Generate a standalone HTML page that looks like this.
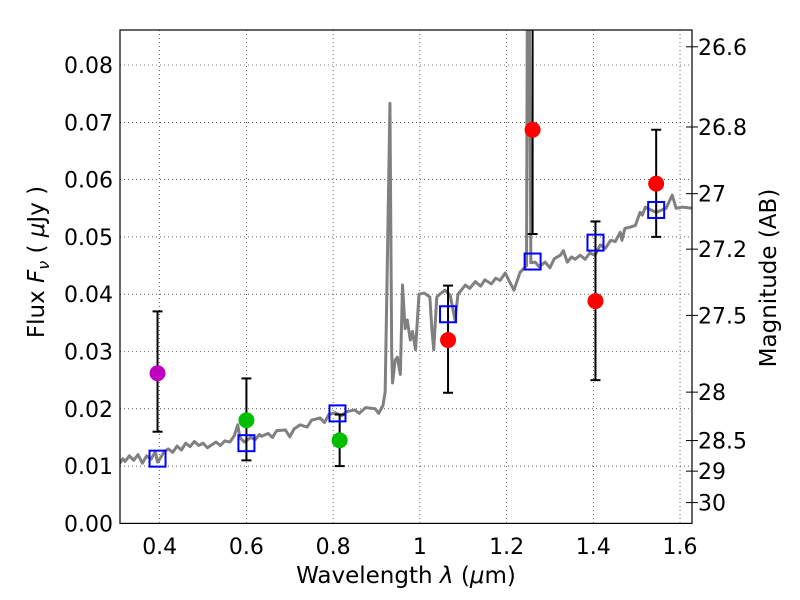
<!DOCTYPE html>
<html><head><meta charset="utf-8"><style>
body{margin:0;background:#fff}
svg{display:block;font-family:"DejaVu Sans","Liberation Sans",sans-serif}
</style></head><body>
<svg id="c" width="800" height="600"></svg>
<script>
const specWl=[0.308,0.315,0.32,0.33,0.34,0.35,0.36,0.37,0.38,0.39,0.395,0.40,0.41,0.42,0.43,0.44,0.45,0.46,0.47,0.48,0.49,0.50,0.51,0.516,0.53,0.54,0.55,0.562,0.572,0.58,0.585,0.595,0.61,0.62,0.63,0.635,0.65,0.66,0.67,0.69,0.70,0.71,0.724,0.74,0.75,0.77,0.78,0.79,0.805,0.82,0.83,0.85,0.86,0.875,0.897,0.905,0.915,0.92,0.926,0.931,0.935,0.937,0.943,0.948,0.955,0.96,0.966,0.971,0.978,0.983,0.99,0.998,1.01,1.023,1.028,1.032,1.039,1.046,1.058,1.07,1.081,1.088,1.105,1.115,1.128,1.14,1.15,1.165,1.175,1.185,1.197,1.208,1.217,1.231,1.246,1.248,1.252,1.256,1.266,1.275,1.289,1.3,1.31,1.324,1.331,1.34,1.35,1.358,1.37,1.381,1.392,1.404,1.416,1.428,1.44,1.451,1.462,1.466,1.473,1.485,1.497,1.508,1.513,1.52,1.53,1.545,1.568,1.582,1.591,1.606,1.628];
const specF=[0.0105,0.0113,0.0108,0.0118,0.0110,0.0120,0.0105,0.0118,0.0112,0.0125,0.0107,0.0112,0.0125,0.0130,0.0124,0.0135,0.0128,0.0140,0.0134,0.0143,0.0136,0.0140,0.0132,0.0135,0.0142,0.0136,0.0144,0.0142,0.0153,0.0172,0.0150,0.0142,0.0150,0.0146,0.0155,0.0152,0.0157,0.0150,0.0162,0.0163,0.0151,0.0165,0.0172,0.0168,0.0180,0.0184,0.0176,0.0190,0.0193,0.0188,0.0195,0.0198,0.0192,0.0202,0.0200,0.0192,0.0206,0.0230,0.050,0.0733,0.030,0.0245,0.0285,0.0290,0.0260,0.0416,0.0340,0.0355,0.0320,0.0335,0.0303,0.0400,0.0402,0.0395,0.0336,0.0303,0.0395,0.0400,0.0407,0.0398,0.0355,0.0400,0.0416,0.0410,0.0422,0.0414,0.0425,0.0418,0.0428,0.0424,0.0437,0.0420,0.0407,0.0438,0.0450,0.095,0.095,0.0455,0.0456,0.0448,0.0456,0.0446,0.0462,0.0468,0.0476,0.0456,0.0465,0.0461,0.0468,0.0461,0.0472,0.0468,0.0486,0.0480,0.0494,0.0492,0.0508,0.0494,0.0515,0.0517,0.0520,0.0543,0.0538,0.0552,0.0548,0.0543,0.0550,0.0573,0.0550,0.0552,0.0550];
const ptWl=[0.395,0.60,0.815,1.065,1.26,1.405,1.545];
const ptF=[0.0262,0.0180,0.0145,0.0320,0.0687,0.0388,0.0593];
const errLo=[0.0160,0.0110,0.0100,0.0228,0.0505,0.0250,0.0500];
const errHi=[0.0370,0.0253,0.0190,0.0415,0.0950,0.0527,0.0687];
const ptColor=['#bf00bf','#00bf00','#00bf00','#ff0000','#ff0000','#ff0000','#ff0000'];
const modelWl=[0.395,0.60,0.81,1.065,1.26,1.405,1.545];
const modelF=[0.0113,0.0140,0.0192,0.0365,0.0457,0.0490,0.0547];
const xTicks=[0.4,0.6,0.8,1.0,1.2,1.4,1.6];
const xTickLabels=['0.4','0.6','0.8','1','1.2','1.4','1.6'];
const yTicks=[0,0.01,0.02,0.03,0.04,0.05,0.06,0.07,0.08];
const yTickLabels=['0.00','0.01','0.02','0.03','0.04','0.05','0.06','0.07','0.08'];
const magTicks=[26.6,26.8,27,27.2,27.5,28,28.5,29,30];
const magTickLabels=['26.6','26.8','27','27.2','27.5','28','28.5','29','30'];

const L=120,R=692,T=30,B=523.4;
const X=w=>159.7+(w-0.4)*433.6;
const Y=f=>B-f*5730;
const svg=document.getElementById('c');
const NS='http://www.w3.org/2000/svg';
function mk(tag,attrs,parent){const e=document.createElementNS(NS,tag);for(const k in attrs)e.setAttribute(k,attrs[k]);(parent||svg).appendChild(e);return e;}
const defs=mk('defs',{});const cp=mk('clipPath',{id:'pc'},defs);mk('rect',{x:L,y:T,width:R-L,height:B-T},cp);

xTicks.forEach((t,i)=>{
  const g=mk('line',{x1:X(t),x2:X(t),y1:T,y2:B,stroke:'#000','stroke-width':0.6,'stroke-dasharray':'1,3'});
  
  
  const tx=mk('text',{x:X(t),y:554,'text-anchor':'middle','font-size':22});
  tx.textContent=xTickLabels[i];
  
  
});
yTicks.forEach((t,i)=>{
  const g=mk('line',{x1:L,x2:R,y1:Y(t),y2:Y(t),stroke:'#000','stroke-width':0.6,'stroke-dasharray':'1,3'});
  
  
  const tx=mk('text',{x:L-7,y:Y(t)+8,'text-anchor':'end','font-size':22});
  tx.textContent=yTickLabels[i];
  
  
});
magTicks.forEach((m,i)=>{
  const y=Y(Math.pow(10,(23.9-m)/2.5));
  const tk=mk('line',{x1:R-6,x2:R+6,y1:y,y2:y,stroke:'#000','stroke-width':1});
  
  
  const tx=mk('text',{x:R+6,y:y+8,'font-size':22});
  tx.textContent=magTickLabels[i];
  
  
});

const pg=mk('g',{'clip-path':'url(#pc)'});
const sp=mk('polyline',{points:specWl.map((w,i)=>X(w)+','+Y(specF[i])).join(' '),fill:'none',stroke:'#808080','stroke-width':3,'stroke-linejoin':'round'},pg);



ptWl.forEach((w,i)=>{
  const e=mk('line',{x1:X(w),x2:X(w),y1:Y(errLo[i]),y2:Y(errHi[i]),stroke:'#000','stroke-width':2},pg);
  
  
  [errLo[i],errHi[i]].forEach(v=>{
    const c=mk('line',{x1:X(w)-5,x2:X(w)+5,y1:Y(v),y2:Y(v),stroke:'#000','stroke-width':2},pg);
    
    
  });
});
modelWl.forEach((w,i)=>{
  const r=mk('rect',{x:X(w)-8,y:Y(modelF[i])-8,width:16,height:16,fill:'none',stroke:'#0000ff','stroke-width':2},pg);
  
  
});
ptWl.forEach((w,i)=>{
  const c=mk('circle',{cx:X(w),cy:Y(ptF[i]),r:8,fill:ptColor[i]},pg);
  
  
});

const fr=mk('rect',{x:L,y:T,width:R-L,height:B-T,fill:'none',stroke:'#000','stroke-width':1.2});



const xl=mk('text',{x:406,y:583,'text-anchor':'middle','font-size':23});
xl.innerHTML='Wavelength  <tspan font-style="italic">λ</tspan> (<tspan font-style="italic">μ</tspan>m)';


const yl=mk('text',{x:0,y:0,'text-anchor':'middle','font-size':23,transform:'translate(44,262) rotate(-90)'});
yl.innerHTML='Flux  <tspan font-style="italic">F</tspan><tspan font-style="italic" font-size="16" dy="5">ν</tspan><tspan dy="-5">  ( </tspan><tspan font-style="italic">μ</tspan>Jy )';


const rl=mk('text',{x:0,y:0,'text-anchor':'middle','font-size':23,transform:'translate(776,278) rotate(-90)'});
rl.textContent='Magnitude (AB)';


</script>
</body></html>
